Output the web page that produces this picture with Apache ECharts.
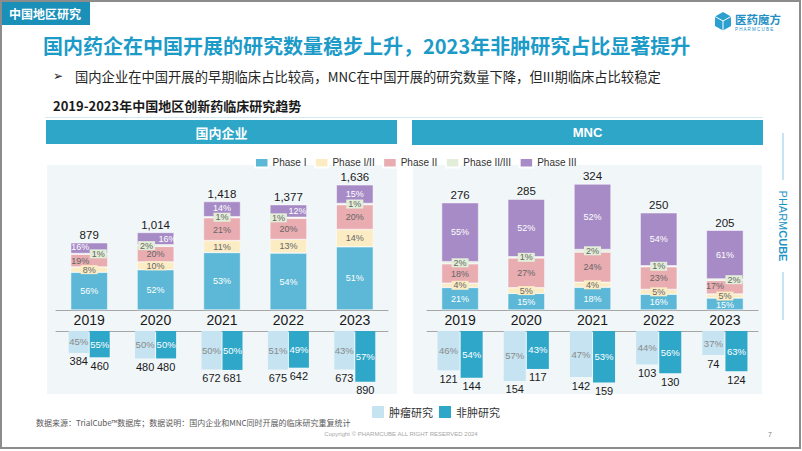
<!DOCTYPE html>
<html>
<head>
<meta charset="utf-8">
<script src="https://cdn.jsdelivr.net/npm/echarts@6/dist/echarts.min.js"></script>
<style>html,body{margin:0;padding:0;background:#fff;}#c{width:802px;height:451px;}</style>
</head>
<body>
<div id="c"></div>
<script>
// ---------- data ----------
const years = ['2019', '2020', '2021', '2022', '2023'];
const phaseNames = ['Phase I', 'Phase I/II', 'Phase II', 'Phase II/III', 'Phase III'];
const domTotals = [879, 1014, 1418, 1377, 1636];
const domPhaseI = [56, 52, 53, 54, 51];
const domPhaseI_II = [8, 10, 11, 13, 14];
const domPhaseII = [19, 20, 21, 20, 20];
const domPhaseII_III = [1, 2, 1, 1, 1];
const domPhaseIII = [16, 16, 14, 12, 15];
const mncTotals = [276, 285, 324, 250, 205];
const mncPhaseI = [21, 15, 18, 16, 15];
const mncPhaseI_II = [4, 5, 4, 5, 5];
const mncPhaseII = [18, 27, 24, 23, 17];
const mncPhaseII_III = [2, 1, 2, 1, 2];
const mncPhaseIII = [55, 52, 52, 54, 61];
const oncNames = ['肿瘤研究', '非肿研究'];
const domOncCount = [384, 480, 672, 675, 673];
const domOncPct = [45, 50, 50, 51, 43];
const domNonOncCount = [460, 480, 681, 642, 890];
const domNonOncPct = [55, 50, 50, 49, 57];
const mncOncCount = [121, 154, 142, 103, 74];
const mncOncPct = [46, 57, 47, 44, 37];
const mncNonOncCount = [144, 117, 159, 130, 124];
const mncNonOncPct = [54, 43, 53, 56, 63];

// ---------- styles ----------
const phaseColors = ['#5cb8d6', '#fbecc4', '#e8acb1', '#e2eed8', '#a78bc6'];
const phaseLabelColors = ['#ffffff', '#666666', '#666666', '#666666', '#ffffff'];
const phaseLabelBg = [null, '#fbecc4', null, '#e2eed8', null];
const oncColors = ['#c5e3f0', '#2fa7c9'];
const oncLabelColors = ['#8a8a8a', '#ffffff'];
const CJK = '"Noto Sans CJK SC", "Noto Sans", sans-serif';
const NUM = '"Liberation Sans", Arial, "Noto Sans CJK SC", sans-serif';
// manual label nudges [phaseIndex_yearIndex] = [dx, dy]
const domOffsets = {'2_0': [-9, 0], '3_0': [9, 0], '3_1': [-9, 0], '3_3': [-10, 0], '4_0': [-9, -1], '4_1': [12, 0], '4_3': [9, 0],
  '4_2': [0, -1], '2_2': [0, 1]};
const mncOffsets = {'3_4': [9, 0], '2_4': [-10, -1], '0_4': [0, 1]};

function stackSeries(tag, totals, pcts, axisIdx, offsets) {
  const out = [];
  pcts.forEach((arr, p) => {
    out.push({
      name: phaseNames[p], type: 'bar', stack: tag, xAxisIndex: axisIdx, yAxisIndex: axisIdx,
      barWidth: 37,
      itemStyle: {color: phaseColors[p], borderColor: '#ffffff', borderWidth: 0.5},
      data: totals.map((t, i) => {
        const sum = pcts.reduce((s, a) => s + a[i], 0);
        const o = offsets[p + '_' + i];
        const item = {value: t * arr[i] / sum};
        if (o) item.label = {offset: o};
        return item;
      }),
      label: {
        show: true, position: 'inside', fontSize: 9, fontFamily: NUM,
        color: phaseLabelColors[p],
        backgroundColor: phaseLabelBg[p] || 'transparent',
        padding: phaseLabelBg[p] ? [0, 2] : 0,
        formatter: (d) => arr[d.dataIndex] + '%'
      }
    });
  });
  out.push({
    name: tag + '-total', type: 'bar', stack: tag, xAxisIndex: axisIdx, yAxisIndex: axisIdx,
    barWidth: 37, data: totals.map(() => 0), itemStyle: {color: 'transparent'},
    label: {show: true, position: 'top', distance: 2, fontSize: 11.5, fontFamily: NUM, color: '#1a1a1a',
      formatter: (d) => totals[d.dataIndex].toLocaleString('en-US')}
  });
  return out;
}

function oncSeries(counts, pcts, axisIdx, overlayIdx, bw) {
  const out = [];
  counts.forEach((arr, k) => {
    out.push({
      name: oncNames[k], type: 'bar', xAxisIndex: axisIdx, yAxisIndex: axisIdx,
      barWidth: bw, barGap: '5%', itemStyle: {color: oncColors[k]}, data: arr,
      label: {show: true, position: 'inside', fontSize: 9.5, fontFamily: NUM, color: oncLabelColors[k],
        formatter: (d) => pcts[k][d.dataIndex] + '%'}
    });
  });
  counts.forEach((arr, k) => {
    out.push({
      name: oncNames[k] + '-n', type: 'bar', xAxisIndex: overlayIdx, yAxisIndex: axisIdx,
      barWidth: bw, barGap: '5%', itemStyle: {color: 'transparent'}, data: arr, z: 3,
      label: {show: true, position: 'bottom', distance: 3, fontSize: 11, fontFamily: NUM, color: '#1a1a1a'}
    });
  });
  return out;
}

const series = [].concat(
  stackSeries('dom', domTotals, [domPhaseI, domPhaseI_II, domPhaseII, domPhaseII_III, domPhaseIII], 0, domOffsets),
  stackSeries('mnc', mncTotals, [mncPhaseI, mncPhaseI_II, mncPhaseII, mncPhaseII_III, mncPhaseIII], 1, mncOffsets),
  oncSeries([domOncCount, domNonOncCount], [domOncPct, domNonOncPct], 2, 4, 20),
  oncSeries([mncOncCount, mncNonOncCount], [mncOncPct, mncNonOncPct], 3, 5, 22)
);

const grids = [
  {left: 56, top: 170, width: 332, height: 140},
  {left: 427, top: 170, width: 331, height: 140},
  {left: 56, top: 331, width: 332, height: 60},
  {left: 427, top: 331, width: 331, height: 60}
];
const axisLine = {show: true, lineStyle: {color: '#a6a6a6', width: 1}};
const xAxes = [
  {gridIndex: 0, type: 'category', data: years, axisLine, axisTick: {show: false},
    axisLabel: {fontSize: 14, color: '#1a1a1a', fontFamily: NUM, margin: 3}},
  {gridIndex: 1, type: 'category', data: years, axisLine, axisTick: {show: false},
    axisLabel: {fontSize: 14, color: '#1a1a1a', fontFamily: NUM, margin: 3}},
  {gridIndex: 2, type: 'category', data: years, position: 'top', axisLine, axisTick: {show: false}, axisLabel: {show: false}},
  {gridIndex: 3, type: 'category', data: years, position: 'top', axisLine, axisTick: {show: false}, axisLabel: {show: false}},
  {gridIndex: 2, type: 'category', data: years, show: false},
  {gridIndex: 3, type: 'category', data: years, show: false}
];
const yBase = {type: 'value', show: false, min: 0, splitLine: {show: false}};
const yAxes = [
  Object.assign({gridIndex: 0, max: 1830}, yBase),
  Object.assign({gridIndex: 1, max: 360}, yBase),
  Object.assign({gridIndex: 2, max: 1050, inverse: true}, yBase),
  Object.assign({gridIndex: 3, max: 185, inverse: true}, yBase)
];

function txt(x, y, text, size, color, opts) {
  return {type: 'text', z: 10, style: Object.assign({x, y, text, fontSize: size, fill: color, fontFamily: CJK,
    textAlign: 'left', align: 'left', textVerticalAlign: 'middle', verticalAlign: 'middle'}, opts || {})};
}

const graphic = [
  {type: 'rect', shape: {x: 1, y: 1, width: 799, height: 447}, style: {fill: 'transparent', stroke: '#8c8c8c', lineWidth: 2}, z: 20},
  {type: 'rect', shape: {x: 0, y: 0, width: 90, height: 25}, style: {fill: '#1a8fb8'}},
  txt(45, 13, '中国地区研究', 12, '#ffffff', {fontWeight: 'bold', textAlign: 'center', align: 'center'}),
  txt(43, 45, '国内药企在中国开展的研究数量稳步上升，2023年非肿研究占比显著提升', 20, '#1c9bc8', {fontWeight: 'bold'}),
  txt(53, 76, '➢', 12, '#222222', {fontFamily: '"DejaVu Sans", sans-serif'}),
  txt(75, 76, '国内企业在中国开展的早期临床占比较高，MNC在中国开展的研究数量下降，但III期临床占比较稳定', 13.3, '#262626'),
  txt(53, 105, '2019-2023年中国地区创新药临床研究趋势', 13, '#1a1a1a', {fontWeight: 'bold'}),
  {type: 'line', shape: {x1: 45, y1: 117.5, x2: 763, y2: 117.5}, style: {stroke: '#d3eaf2', lineWidth: 1}},
  {type: 'rect', shape: {x: 46, y: 120, width: 351, height: 24}, style: {fill: '#2ea6c8'}},
  {type: 'rect', shape: {x: 412, y: 120, width: 351, height: 25}, style: {fill: '#2ea6c8'}},
  txt(221.5, 132, '国内企业', 13, '#ffffff', {fontWeight: 'bold', textAlign: 'center', align: 'center'}),
  txt(587.5, 132.5, 'MNC', 13, '#ffffff', {fontWeight: 'bold', textAlign: 'center', align: 'center', fontFamily: NUM}),
  {type: 'rect', shape: {x: 47, y: 165, width: 350, height: 229}, style: {fill: '#f1f6f9'}, z: -1},
  {type: 'rect', shape: {x: 413, y: 165, width: 349, height: 229}, style: {fill: '#f1f6f9'}, z: -1},
  // right brand
  {type: 'line', shape: {x1: 783, y1: 133, x2: 783, y2: 180}, style: {stroke: '#8ccbe2', lineWidth: 1}},
  {type: 'line', shape: {x1: 783, y1: 272, x2: 783, y2: 320}, style: {stroke: '#8ccbe2', lineWidth: 1}},
  {type: 'text', z: 10, x: 783, y: 226, rotation: -Math.PI / 2, style: {x: 0, y: 0, text: '{a|PHARM}{b|CUBE}',
    textAlign: 'center', align: 'center', textVerticalAlign: 'middle', verticalAlign: 'middle',
    rich: {a: {fontSize: 11, fill: '#1e94c6', color: '#1e94c6', fontFamily: NUM},
           b: {fontSize: 11, fill: '#1e94c6', color: '#1e94c6', fontFamily: NUM, fontWeight: 'bold'}}}},
  // logo
  {type: 'polygon', shape: {points: [[723, 12], [731, 16.5], [731, 26], [723, 30.5], [715, 26], [715, 16.5]]}, style: {fill: '#2a9fd0'}},
  {type: 'polyline', shape: {points: [[715, 16.5], [723, 21], [731, 16.5]]}, style: {stroke: '#ffffff', lineWidth: 1}},
  {type: 'line', shape: {x1: 723, y1: 21, x2: 723, y2: 30.5}, style: {stroke: '#ffffff', lineWidth: 1}},
  txt(735, 19, '医药魔方', 11.5, '#1f8fc4', {fontWeight: 'bold'}),
  txt(735, 29, 'P H A R M C U B E', 4.5, '#1f8fc4', {fontFamily: NUM}),
  // footer
  txt(36, 422, '数据来源：TrialCube™数据库；数据说明：国内企业和MNC同时开展的临床研究重复统计', 8, '#595959'),
  txt(401, 434, 'Copyright © PHARMCUBE ALL RIGHT RESERVED 2024', 6, '#a6a6a6', {textAlign: 'center', align: 'center', fontFamily: NUM}),
  txt(768, 434, '7', 7, '#7f7f7f', {fontFamily: NUM})
];

const chart = echarts.init(document.getElementById('c'), null, {renderer: 'svg', width: 802, height: 451});
chart.setOption({
  animation: false,
  backgroundColor: '#ffffff',
  textStyle: {fontFamily: NUM},
  grid: grids,
  xAxis: xAxes,
  yAxis: yAxes,
  legend: [
    {data: phaseNames, left: 249, top: 152, itemWidth: 13.5, itemHeight: 9.5, itemGap: 7.5, icon: 'rect',
      textStyle: {fontSize: 10, color: '#333333', fontFamily: NUM, padding: [0, 0, 0, -1]}},
    {data: oncNames, left: 367, top: 401, itemWidth: 12, itemHeight: 12, itemGap: 6, icon: 'rect',
      textStyle: {fontSize: 11, color: '#333333', fontFamily: CJK}}
  ],
  graphic: graphic,
  series: series
});
</script>
</body>
</html>
